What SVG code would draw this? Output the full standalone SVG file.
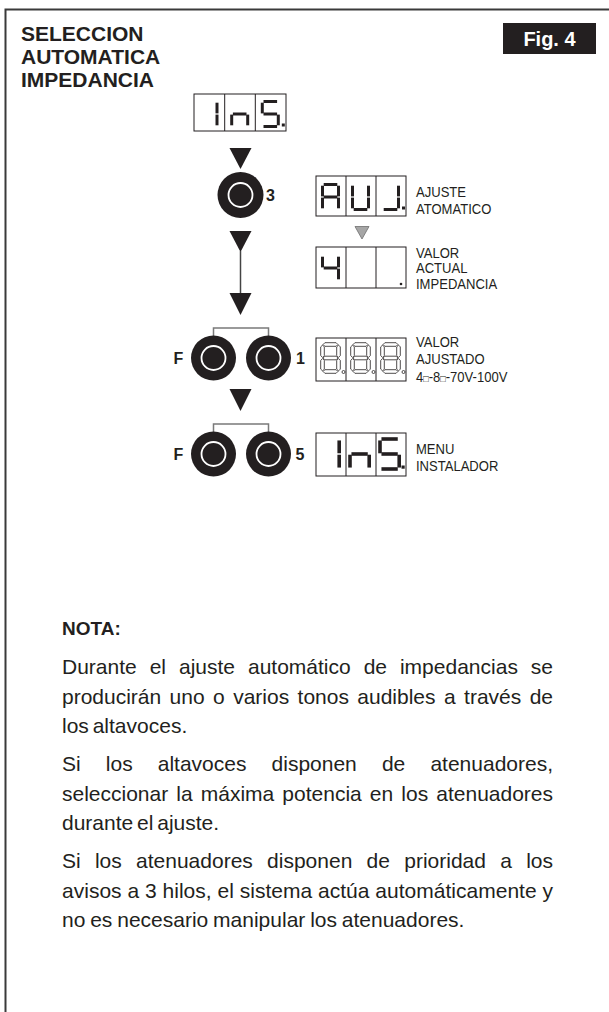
<svg xmlns="http://www.w3.org/2000/svg" xmlns:xlink="http://www.w3.org/1999/xlink" width="609" height="1012" viewBox="0 0 609 1012">
<style>
.frame{fill:none;stroke:#3a3a3a;stroke-width:2}
.title{font-family:"Liberation Sans",Arial,sans-serif;font-weight:bold;font-size:21px;fill:#231f20}
.lbl{font-family:"Liberation Sans",Arial,sans-serif;font-size:14.5px;fill:#231f20}
.key{font-family:"Liberation Sans",Arial,sans-serif;font-weight:bold;font-size:16px;fill:#231f20}
.body{font-family:"Liberation Sans",Arial,sans-serif;font-size:21px;fill:#231f20}
.nota{font-family:"Liberation Sans",Arial,sans-serif;font-weight:bold;font-size:19px;fill:#231f20}
.disp{fill:#fff;stroke:#231f20;stroke-width:1}
.div{stroke:#231f20;stroke-width:1}
.seg{fill:none;stroke:#231f20;stroke-width:3;stroke-linecap:butt}
.hol{fill:#fff;stroke:#231f20;stroke-width:0.8}
.btn{fill:#231f20}
.ring{fill:none;stroke:#fff;stroke-width:1.8}
.arrow{fill:#231f20}
.garrow{fill:#a6a6a6;stroke:#6e6e6e;stroke-width:0.8}
.wire{fill:none;stroke:#444;stroke-width:1.5}
.brk{fill:none;stroke:#7a7a7a;stroke-width:1.5}
</style>
<defs>
<path id="sa" d="M1.2,0H14.8"/>
<path id="sb" d="M16,1.2V11.9"/>
<path id="sc" d="M16,13.1V23.8"/>
<path id="sd" d="M1.2,25H14.8"/>
<path id="se" d="M0,13.1V23.8"/>
<path id="sf" d="M0,1.2V11.9"/>
<path id="sg" d="M1.2,12.5H14.8"/>
<rect id="dp" x="19.5" y="22" width="3" height="3" fill="#231f20" stroke="none"/>
<polygon id="ha" points="0.6,0 2.4,-1.8 13.6,-1.8 15.4,0 13.6,1.8 2.4,1.8"/>
<polygon id="hg" points="0.6,13.5 2.4,11.7 13.6,11.7 15.4,13.5 13.6,15.3 2.4,15.3"/>
<polygon id="hd" points="0.6,27 2.4,25.2 13.6,25.2 15.4,27 13.6,28.8 2.4,28.8"/>
<polygon id="hf" points="0,0.6 1.8,2.4 1.8,11.1 0,12.9 -1.8,11.1 -1.8,2.4"/>
<polygon id="he" points="0,14.1 1.8,15.9 1.8,24.6 0,26.4 -1.8,24.6 -1.8,15.9"/>
<polygon id="hb" points="16,0.6 17.8,2.4 17.8,11.1 16,12.9 14.2,11.1 14.2,2.4"/>
<polygon id="hc" points="16,14.1 17.8,15.9 17.8,24.6 16,26.4 14.2,24.6 14.2,15.9"/>
<g id="h8">
<use href="#ha"/><use href="#hb"/><use href="#hc"/><use href="#hd"/><use href="#he"/><use href="#hf"/><use href="#hg"/>
<circle cx="21" cy="27.5" r="1.5"/>
</g>
</defs>

<rect width="609" height="1012" fill="#fff"/>
<path class="frame" d="M5.5,1012V9.5H609"/>

<g id="title">
<text class="title" x="21" y="40.5">SELECCION</text>
<text class="title" x="21" y="63.5">AUTOMATICA</text>
<text class="title" x="21" y="86.5">IMPEDANCIA</text>
</g>

<g id="fig-label">
<rect x="503" y="23" width="93" height="31" fill="#231f20"/>
<text x="549.5" y="45.5" text-anchor="middle" font-family="Liberation Sans, Arial, sans-serif" font-weight="bold" font-size="20" fill="#fff">Fig. 4</text>
</g>

<g id="connectors">
<polygon class="arrow" points="229.5,148 251.5,148 240.5,169"/>
<polygon class="arrow" points="229.5,231 251.5,231 240.5,252"/>
<line class="wire" x1="240.5" y1="251" x2="240.5" y2="294"/>
<polygon class="arrow" points="229.5,293 251.5,293 240.5,315"/>
<polygon class="arrow" points="229.5,389 251.5,389 240.5,411"/>
<polygon class="garrow" points="355,226.5 369,226.5 362,239"/>
<path class="brk" d="M213.5,337V328H268.5V337"/>
<path class="brk" d="M213.5,433V424H268.5V433"/>
</g>

<g id="display-ins-1">
<rect class="disp" x="194" y="94" width="92" height="37"/>
<line class="div" x1="224.7" y1="94" x2="224.7" y2="131"/>
<line class="div" x1="255.3" y1="94" x2="255.3" y2="131"/>
<g class="seg" transform="translate(201,101.5)"><use href="#sb"/><use href="#sc"/></g>
<g class="seg" transform="translate(231.7,101.5)"><use href="#sc"/><use href="#se"/><use href="#sg"/></g>
<g class="seg" transform="translate(262.3,101.5)"><use href="#sa"/><use href="#sf"/><use href="#sg"/><use href="#sc"/><use href="#sd"/><use href="#dp"/></g>
</g>

<g id="button-3">
<circle class="btn" cx="240.5" cy="195" r="23"/>
<circle class="ring" cx="240.5" cy="195" r="12"/>
<text class="key" x="266" y="201">3</text>
</g>

<g id="display-auj">
<rect class="disp" x="316" y="176" width="90" height="40"/>
<line class="div" x1="346" y1="176" x2="346" y2="216"/>
<line class="div" x1="376" y1="176" x2="376" y2="216"/>
<g class="seg" transform="translate(322.5,184.5)"><use href="#sa"/><use href="#sb"/><use href="#sc"/><use href="#se"/><use href="#sf"/><use href="#sg"/></g>
<g class="seg" transform="translate(352.5,184.5)"><use href="#sb"/><use href="#sc"/><use href="#sd"/><use href="#se"/><use href="#sf"/></g>
<g class="seg" transform="translate(382.5,184.5)"><use href="#sb"/><use href="#sc"/><use href="#sd"/><use href="#dp"/></g>
<g transform="matrix(0.9,0,0,1,416,0)">
<text class="lbl" x="0" y="197">AJUSTE</text>
<text class="lbl" x="0" y="214">ATOMATICO</text>
</g>
</g>

<g id="display-valor-actual">
<rect class="disp" x="316" y="247" width="90" height="41"/>
<line class="div" x1="346" y1="247" x2="346" y2="288"/>
<line class="div" x1="376" y1="247" x2="376" y2="288"/>
<g class="seg" transform="translate(322.5,255.5)"><use href="#sf"/><use href="#sg"/><use href="#sb"/><use href="#sc"/></g>
<circle cx="401" cy="284" r="1.3" fill="#231f20"/>
<g transform="matrix(0.9,0,0,1,416,0)">
<text class="lbl" x="0" y="258">VALOR</text>
<text class="lbl" x="0" y="273.5">ACTUAL</text>
<text class="lbl" x="0" y="289">IMPEDANCIA</text>
</g>
</g>

<g id="buttons-f-1">
<circle class="btn" cx="213.5" cy="358" r="22.5"/>
<circle class="ring" cx="213.5" cy="358" r="12"/>
<circle class="btn" cx="268.5" cy="358" r="22.5"/>
<circle class="ring" cx="268.5" cy="358" r="12"/>
<text class="key" x="173.5" y="364">F</text>
<text class="key" x="296" y="364">1</text>
</g>

<g id="display-888">
<rect class="disp" x="316" y="338" width="90" height="43"/>
<line class="div" x1="346" y1="338" x2="346" y2="381"/>
<line class="div" x1="376" y1="338" x2="376" y2="381"/>
<g class="hol">
<use href="#h8" transform="translate(322.5,344.5)"/>
<use href="#h8" transform="translate(352.5,344.5)"/>
<use href="#h8" transform="translate(382.5,344.5)"/>
</g>
<g transform="matrix(0.9,0,0,1,416,0)">
<text class="lbl" x="0" y="347">VALOR</text>
<text class="lbl" x="0" y="364.5">AJUSTADO</text>
<text class="lbl" x="0" y="382">4<tspan font-size="10">□</tspan>-8<tspan font-size="10">□</tspan>-70V-100V</text>
</g>
</g>

<g id="buttons-f-5">
<circle class="btn" cx="213.5" cy="454" r="22.5"/>
<circle class="ring" cx="213.5" cy="454" r="12"/>
<circle class="btn" cx="268.5" cy="454" r="22.5"/>
<circle class="ring" cx="268.5" cy="454" r="12"/>
<text class="key" x="173.5" y="460">F</text>
<text class="key" x="295.5" y="460">5</text>
</g>

<g id="display-ins-2">
<rect class="disp" x="316" y="433" width="90" height="43"/>
<line class="div" x1="346" y1="433" x2="346" y2="476"/>
<line class="div" x1="376" y1="433" x2="376" y2="476"/>
<g class="seg" transform="translate(320,439) scale(1.2)" stroke-width="2.8"><use href="#sb"/><use href="#sc"/></g>
<g class="seg" transform="translate(350,439) scale(1.2)" stroke-width="2.8"><use href="#sc"/><use href="#se"/><use href="#sg"/></g>
<g class="seg" transform="translate(380,439) scale(1.2)" stroke-width="2.8"><use href="#sa"/><use href="#sf"/><use href="#sg"/><use href="#sc"/><use href="#sd"/></g>
<rect x="401.5" y="465.5" width="3.2" height="3.2" fill="#231f20"/>
<g transform="matrix(0.9,0,0,1,416,0)">
<text class="lbl" x="0" y="454">MENU</text>
<text class="lbl" x="0" y="471">INSTALADOR</text>
</g>
</g>

<g id="nota">
<text class="nota" x="62" y="635">NOTA:</text>
<text class="body" x="62" y="674" word-spacing="7.1" textLength="491" lengthAdjust="spacing">Durante el ajuste automático de impedancias se</text>
<text class="body" x="62" y="703.5" word-spacing="2.6" textLength="491" lengthAdjust="spacing">producirán uno o varios tonos audibles a través de</text>
<text class="body" x="62" y="733" word-spacing="-2">los altavoces.</text>
<text class="body" x="62" y="771" word-spacing="19.3" textLength="491" lengthAdjust="spacing">Si los altavoces disponen de atenuadores,</text>
<text class="body" x="62" y="800.5" word-spacing="2.3" textLength="491" lengthAdjust="spacing">seleccionar la máxima potencia en los atenuadores</text>
<text class="body" x="62" y="830" word-spacing="-2">durante el ajuste.</text>
<text class="body" x="62" y="868" word-spacing="8.4" textLength="491" lengthAdjust="spacing">Si los atenuadores disponen de prioridad a los</text>
<text class="body" x="62" y="897.5" word-spacing="0" textLength="491" lengthAdjust="spacing">avisos a 3 hilos, el sistema actúa automáticamente y</text>
<text class="body" x="62" y="927" word-spacing="-1">no es necesario manipular los atenuadores.</text>
</g>
</svg>
